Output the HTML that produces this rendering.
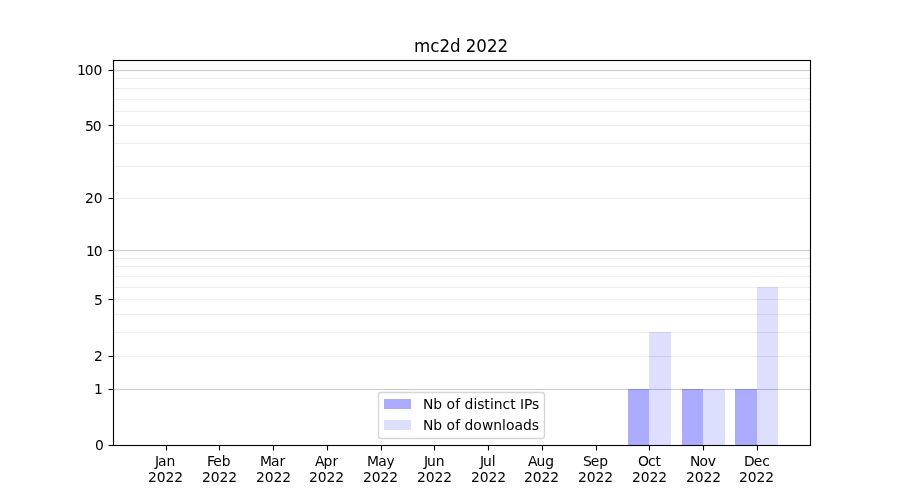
<!DOCTYPE html>
<html lang="en"><head><meta charset="utf-8"><title>mc2d 2022</title>
<style>html,body{margin:0;padding:0;background:#fff;overflow:hidden}svg{display:block}text{font-family:"DejaVu Sans","Liberation Sans",sans-serif;font-size:13.889px;fill:#000;white-space:pre}.t{font-size:16.667px}.g1{stroke:#ccc}.g2{stroke:#eee}.g1,.g2{stroke-width:1.111;fill:none}.k{stroke:#000;stroke-width:1.111;fill:none}.d{fill:#00f;fill-opacity:.33}.l{fill:#00f;fill-opacity:.13}.h{stroke-width:3;stroke-opacity:.055}</style></head><body>
<svg width="900" height="500" viewBox="0 0 900 500">
<rect width="900" height="500" fill="#fff"/>
<path class="g1 h" d="M113.5 389.5H810.5M113.5 250.5H810.5M113.5 70.5H810.5"/><path class="g1" d="M113.5 389.5H810.5M113.5 250.5H810.5M113.5 70.5H810.5"/>
<path class="g2 h" d="M113.5 356.5H810.5M113.5 332.5H810.5M113.5 314.5H810.5M113.5 299.5H810.5M113.5 287.5H810.5M113.5 276.5H810.5M113.5 266.5H810.5M113.5 258.5H810.5M113.5 198.5H810.5M113.5 166.5H810.5M113.5 143.5H810.5M113.5 125.5H810.5M113.5 111.5H810.5M113.5 99.5H810.5M113.5 88.5H810.5M113.5 78.5H810.5"/><path class="g2" d="M113.5 356.5H810.5M113.5 332.5H810.5M113.5 314.5H810.5M113.5 299.5H810.5M113.5 287.5H810.5M113.5 276.5H810.5M113.5 266.5H810.5M113.5 258.5H810.5M113.5 198.5H810.5M113.5 166.5H810.5M113.5 143.5H810.5M113.5 125.5H810.5M113.5 111.5H810.5M113.5 99.5H810.5M113.5 88.5H810.5M113.5 78.5H810.5"/>
<rect class="d" x="628" y="389" width="21" height="56"/>
<rect class="l" x="649" y="332" width="22" height="113"/>
<rect class="d" x="682" y="389" width="21" height="56"/>
<rect class="l" x="703" y="389" width="22" height="56"/>
<rect class="d" x="735" y="389" width="22" height="56"/>
<rect class="l" x="757" y="287" width="21" height="158"/>
<path class="k h" d="M113.5 445.5h-5M113.5 389.5h-5M113.5 356.5h-5M113.5 299.5h-5M113.5 250.5h-5M113.5 198.5h-5M113.5 125.5h-5M113.5 70.5h-5M113 60.5H811M113 445.5H811"/>
<path class="k" d="M166.5 445.5v5M219.5 445.5v5M273.5 445.5v5M327.5 445.5v5M381.5 445.5v5M434.5 445.5v5M488.5 445.5v5M542.5 445.5v5M596.5 445.5v5M649.5 445.5v5M703.5 445.5v5M757.5 445.5v5M113.5 445.5h-5M113.5 389.5h-5M113.5 356.5h-5M113.5 299.5h-5M113.5 250.5h-5M113.5 198.5h-5M113.5 125.5h-5M113.5 70.5h-5"/>
<path class="k" d="M113.5 60.5H810.5V445.5H113.5Z" stroke-linejoin="miter"/>
<rect x="378.5" y="392.5" width="166" height="46" rx="2.78" fill="#fff" fill-opacity=".8" stroke="#ccc" stroke-opacity=".8" stroke-width="1.389"/>
<rect class="d" x="384" y="399" width="27" height="10"/>
<rect class="l" x="384" y="420" width="27" height="10"/>
<text id="m0" x="154.99 158.07 166.58" y="466">Jan</text>
<text id="yr0" x="148.03 156.84 165.42 174.25" y="482">2022</text>
<text id="m1" x="206.89 213.36 221.64" y="466">Feb</text>
<text id="yr1" x="202.01 210.82 219.4 228.23" y="482">2022</text>
<text id="m2" x="260.07 271.04 279.54" y="466">Mar</text>
<text id="yr2" x="256 264.81 273.39 282.22" y="482">2022</text>
<text id="m3" x="314.89 323.62 332.44" y="466">Apr</text>
<text id="yr3" x="308.99 317.8 326.38 335.21" y="482">2022</text>
<text id="m4" x="367.04 378.26 386.51" y="466">May</text>
<text id="yr4" x="362.97 371.78 380.61 389.19" y="482">2022</text>
<text id="m5" x="424.03 427.11 435.65" y="466">Jun</text>
<text id="yr5" x="416.96 425.77 434.6 443.18" y="482">2022</text>
<text id="m6" x="479.99 483.07 491.86" y="466">Jul</text>
<text id="yr6" x="470.94 479.75 488.58 497.16" y="482">2022</text>
<text id="m7" x="528.04 536.52 545.32" y="466">Aug</text>
<text id="yr7" x="523.93 532.74 541.57 550.15" y="482">2022</text>
<text id="m8" x="583 590.8 599.34" y="466">Sep</text>
<text id="yr8" x="577.92 586.73 595.56 604.14" y="482">2022</text>
<text id="m9" x="638.07 647.98 655.62" y="466">Oct</text>
<text id="yr9" x="631.9 640.71 649.54 658.37" y="482">2022</text>
<text id="m10" x="690.01 699.39 707.87" y="466">Nov</text>
<text id="yr10" x="685.89 694.7 703.53 712.36" y="482">2022</text>
<text id="m11" x="744.11 753.78 762.33" y="466">Dec</text>
<text id="yr11" x="738.88 747.69 756.52 765.35" y="482">2022</text>
<text id="y0" x="94.95" y="450">0</text>
<text id="y1" x="93.95" y="394">1</text>
<text id="y2" x="93.95" y="361">2</text>
<text id="y5" x="93.95" y="305">5</text>
<text id="y10" x="86.12 93.69" y="256">10</text>
<text id="y20" x="85.12 93.69" y="203">20</text>
<text id="y50" x="85.12 92.69" y="131">50</text>
<text id="y100" x="77.05 84.86 93.44" y="75">100</text>
<text id="title" class="t" transform="matrix(1 0 0 1.07 0 -3.640)" x="414.12 430.34 439.5 450.09 460.67 465.71 476.31 486.91 497.51" y="52">mc2d 2022</text>
<text id="leg1" x="422.99 433.36 441.66 446.58 455.32 459.46 464.61 473.43 477.27 484.26 489.94 493.8 502.6 510.22 514.91 520.07 523.91 532.04" y="409">Nb of distinct IPs</text>
<text id="leg2" x="422.99 433.36 441.66 446.58 455.32 459.46 464.61 473.18 481.91 493.26 502.05 505.91 514.4 522.9 531.71" y="430">Nb of downloads</text>
</svg></body></html>
